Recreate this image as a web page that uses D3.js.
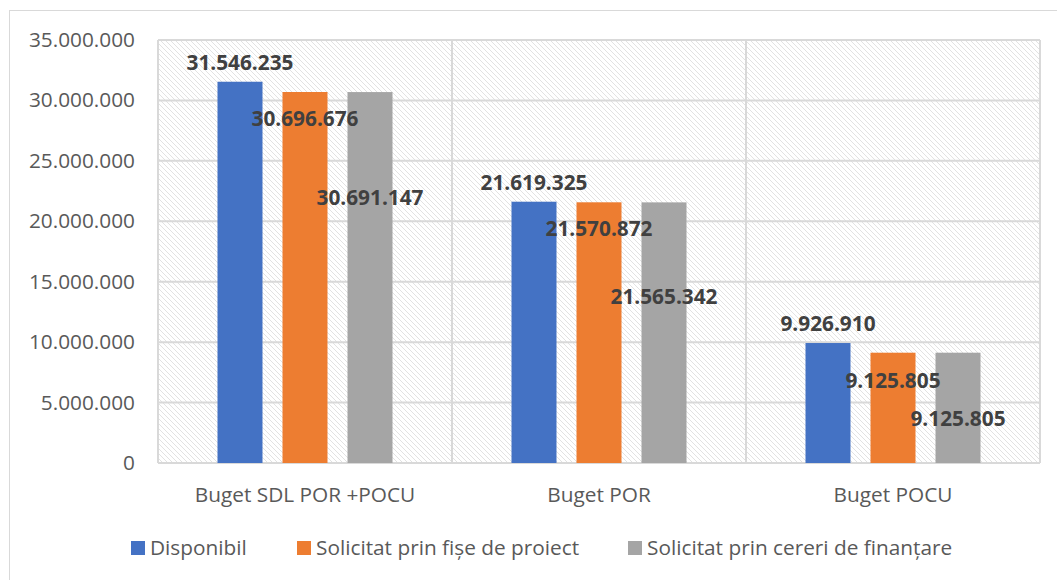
<!DOCTYPE html>
<html>
<head>
<meta charset="utf-8">
<script src="https://cdn.jsdelivr.net/npm/d3@7"></script>
<style>
  body { margin: 0; background: #fff; }
  svg text { font-family: "Open Sans", "Noto Sans", sans-serif; }
</style>
</head>
<body>
<svg id="chart" width="1057" height="580"></svg>
<script>
// data
const categories = ["Buget SDL POR +POCU", "Buget POR", "Buget POCU"];
const series = ["Disponibil", "Solicitat prin fișe de proiect", "Solicitat prin cereri de finanțare"];
const disponibil = [31546235, 21619325, 9926910];
const solicitatFise = [30696676, 21570872, 9125805];
const solicitatCereri = [30691147, 21565342, 9125805];
const yTicks = [0, 5000000, 10000000, 15000000, 20000000, 25000000, 30000000, 35000000];

const colors = ["#4472c4", "#ed7d31", "#a5a5a5"];
const values = [disponibil, solicitatFise, solicitatCereri];

// label shift from bar top (px), the way Excel placed them
const labelShift = [[-19, -19, -19], [27, 27, 28], [106, 95, 66]];

let svg = d3.select("#chart");
let m = {left: 158, right: 1040, top: 40, bottom: 463};
let fs = 20.8;

let fmt = d3.formatLocale({decimal: ",", thousands: ".", grouping: [3], currency: ["", ""]}).format(",d");

// outer frame
svg.append("rect")
    .attr("x", 9.5).attr("y", 10.5).attr("width", 1060).attr("height", 580)
    .attr("fill", "none").attr("stroke", "#d9d9d9").attr("stroke-width", 1);

// hatch pattern for plot area
let pat = svg.append("defs").append("pattern")
    .attr("id", "hatch").attr("patternUnits", "userSpaceOnUse")
    .attr("width", 5).attr("height", 5);
pat.append("rect").attr("width", 5).attr("height", 5).attr("fill", "#fff");
pat.append("path").attr("d", "M-1,-1 L6,6 M-1,4 L1,6 M4,-1 L6,1")
    .attr("stroke", "#e2e2e2").attr("stroke-width", 1);

let x0 = d3.scaleBand().domain(categories).range([m.left, m.right]);
let x1 = d3.scaleBand().domain(series).range([-97.5, 97.5])
    .paddingInner(0.3077).paddingOuter(0.1538);
let y = d3.scaleLinear().domain([0, 35000000]).range([m.bottom, m.top]);

svg.append("rect")
    .attr("x", m.left).attr("y", m.top)
    .attr("width", m.right - m.left).attr("height", m.bottom - m.top)
    .attr("fill", "url(#hatch)");

// horizontal gridlines
svg.append("g").selectAll("line").data(yTicks).enter().append("line")
    .attr("x1", m.left).attr("x2", m.right)
    .attr("y1", d => y(d)).attr("y2", d => y(d))
    .attr("stroke", "#d9d9d9").attr("stroke-width", 2);

// vertical gridlines at category boundaries
let bounds = categories.map(c => x0(c)).concat([m.right]);
svg.append("g").selectAll("line").data(bounds).enter().append("line")
    .attr("x1", d => d).attr("x2", d => d)
    .attr("y1", m.top).attr("y2", m.bottom)
    .attr("stroke", "#d9d9d9").attr("stroke-width", 2);

// y tick labels
svg.append("g").selectAll("text").data(yTicks).enter().append("text")
    .attr("x", 135).attr("y", d => y(d) + 7)
    .attr("text-anchor", "end").attr("font-size", fs).attr("fill", "#595959")
    .text(d => fmt(d));

// category labels
svg.append("g").selectAll("text").data(categories).enter().append("text")
    .attr("x", d => x0(d) + x0.bandwidth() / 2).attr("y", 502)
    .attr("text-anchor", "middle").attr("font-size", fs).attr("fill", "#595959")
    .text(d => d);

// bars
series.forEach(function (s, i) {
    let g = svg.append("g");
    g.selectAll("rect").data(categories).enter().append("rect")
        .attr("x", (c) => x0(c) + x0.bandwidth() / 2 + x1(s))
        .attr("y", (c, j) => y(values[i][j]))
        .attr("width", x1.bandwidth())
        .attr("height", (c, j) => y(0) - y(values[i][j]))
        .attr("fill", colors[i]);
});

// data labels (drawn after all bars)
series.forEach(function (s, i) {
    svg.append("g").selectAll("text").data(categories).enter().append("text")
        .attr("x", (c) => x0(c) + x0.bandwidth() / 2 + x1(s) + x1.bandwidth() / 2)
        .attr("y", (c, j) => y(values[i][j]) + labelShift[i][j] + 7)
        .attr("text-anchor", "middle").attr("font-size", fs)
        .attr("font-weight", "bold").attr("fill", "#404040")
        .text((c, j) => fmt(values[i][j]));
});

// legend
let legendX = [131, 297, 628];
let leg = svg.append("g").selectAll("g").data(series).enter().append("g")
    .attr("transform", (d, i) => `translate(${legendX[i]},541)`);
leg.append("rect").attr("width", 14).attr("height", 14).attr("fill", (d, i) => colors[i]);
leg.append("text").attr("x", 19).attr("y", 14)
    .attr("font-size", fs).attr("fill", "#595959").text(d => d);
</script>
</body>
</html>
